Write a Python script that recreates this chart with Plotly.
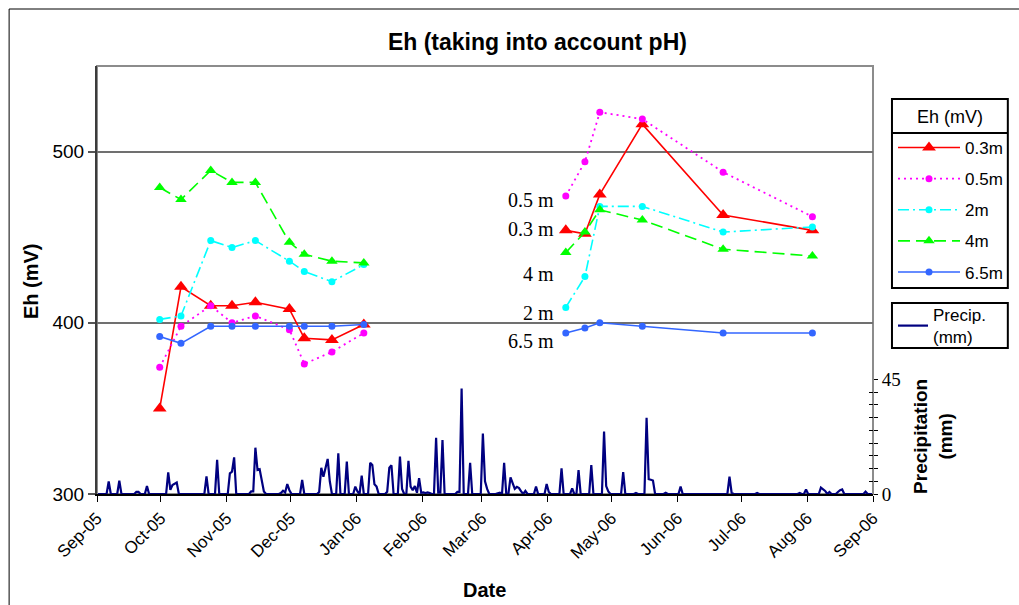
import pandas as pd
import plotly.graph_objects as go

# ---------------------------------------------------------------- data
# Eh sampling dates, two campaigns
eh_dates_1 = ["2005-09-30", "2005-10-10", "2005-10-24", "2005-11-03", "2005-11-14",
              "2005-11-30", "2005-12-07", "2005-12-20", "2006-01-04"]
eh_dates_2 = ["2006-04-09", "2006-04-18", "2006-04-25", "2006-05-15", "2006-06-22",
              "2006-08-03"]

# Eh (mV) by depth
eh_03m_1 = [350, 421, 410, 410, 412, 408, 391, 390, 399]
eh_03m_2 = [454, 452, 475, 516, 463, 454]
eh_05m_1 = [374, 398, 410, 400, 404, 396, 376, 383, 394]
eh_05m_2 = [474, 494, 523, 519, 488, 462]
eh_2m_1 = [402, 404, 448, 444, 448, 436, 430, 424, 434]
eh_2m_2 = [409, 427, 468, 468, 453, 456]
eh_4m_1 = [479, 472, 489, 482, 482, 447, 440, 436, 435]
eh_4m_2 = [441, 453, 466, 460, 443, 439]
eh_65m_1 = [392, 388, 398, 398, 398, 398, 398, 398, 399]
eh_65m_2 = [394, 397, 400, 398, 394, 394]

series_names = ["0.3m", "0.5m", "2m", "4m", "6.5m"]
series_labels = ["0.5 m", "0.3 m", "4 m", "2 m", "6.5 m"]

# daily precipitation (mm); days not listed had no rain
precip_dates = [
    "2005-09-06", "2005-09-11", "2005-09-19", "2005-09-20", "2005-09-24",
    "2005-10-04", "2005-10-05", "2005-10-06", "2005-10-07", "2005-10-08",
    "2005-10-22", "2005-10-27", "2005-11-02", "2005-11-03", "2005-11-04",
    "2005-11-12", "2005-11-13", "2005-11-14", "2005-11-15", "2005-11-16",
    "2005-11-17", "2005-11-18", "2005-11-26", "2005-11-27", "2005-11-28",
    "2005-11-29", "2005-11-30", "2005-12-06", "2005-12-14", "2005-12-15",
    "2005-12-16", "2005-12-17", "2005-12-18", "2005-12-19", "2005-12-23",
    "2005-12-27", "2005-12-31", "2006-01-01", "2006-01-03", "2006-01-07",
    "2006-01-08", "2006-01-09", "2006-01-10", "2006-01-15", "2006-01-16",
    "2006-01-17", "2006-01-21", "2006-01-22", "2006-01-25", "2006-01-26",
    "2006-01-27", "2006-01-28", "2006-01-29", "2006-01-30", "2006-01-31",
    "2006-02-01", "2006-02-02", "2006-02-03", "2006-02-04", "2006-02-07",
    "2006-02-08", "2006-02-09", "2006-02-10", "2006-02-17", "2006-02-18",
    "2006-02-19", "2006-02-23", "2006-03-01", "2006-03-02", "2006-03-03",
    "2006-03-08", "2006-03-09", "2006-03-11", "2006-03-14", "2006-03-15",
    "2006-03-16", "2006-03-17", "2006-03-18", "2006-03-19", "2006-03-21",
    "2006-03-26", "2006-03-31", "2006-04-01", "2006-04-07", "2006-04-12",
    "2006-04-15", "2006-04-21", "2006-04-27", "2006-04-28", "2006-04-29",
    "2006-05-06", "2006-05-12", "2006-05-17", "2006-05-18", "2006-05-19",
    "2006-05-20", "2006-05-26", "2006-06-02", "2006-06-25", "2006-06-26",
    "2006-07-08", "2006-07-28", "2006-07-31", "2006-08-07", "2006-08-08",
    "2006-08-09", "2006-08-11", "2006-08-15", "2006-08-16", "2006-08-17",
    "2006-08-28",
]
precip_mm = [
    4.9, 5.2, 0.8, 0.8, 3.1,
    8.5, 1.6, 3.5, 4.0, 4.5,
    6.9, 13.4, 8.1, 8.8, 14.4,
    1.0, 1.0, 18.2, 9.4, 9.7,
    5.0, 1.0, 0.4, 1.3, 0.6,
    3.9, 1.5, 5.5, 0.8, 10.3,
    6.8, 10.3, 13.8, 5.0, 16.0,
    12.7, 2.9, 1.0, 7.2, 12.3,
    11.4, 3.8, 2.9, 0.9, 10.3,
    11.3, 14.7, 2.0, 13.0, 2.9,
    1.5, 3.1, 0.5, 6.2, 0.5,
    0.6, 0.4, 0.6, 0.4, 22.1,
    0.5, 0.5, 21.2, 0.8, 0.8,
    41.5, 12.3, 23.8, 5.0, 2.0,
    0.3, 0.5, 12.3, 6.5, 4.5,
    2.0, 2.8, 2.3, 1.0, 1.2,
    2.9, 3.9, 0.8, 10.1, 2.2,
    9.4, 11.4, 24.5, 3.1, 1.0,
    8.6, 0.4, 30.0, 5.8, 5.6,
    5.3, 0.5, 2.9, 6.8, 0.5,
    0.4, 0.4, 1.8, 2.5, 2.0,
    1.2, 0.8, 0.8, 1.5, 1.8,
    0.9,
]

# ---------------------------------------------------------------- layout helpers
W, H = 1019, 605
PL, PR, PT, PB = 97, 874, 66, 494          # plot area in pixels


def px2x(px):
    return (px - PL) / (PR - PL)


def px2y(py):
    return (PB - py) / (PB - PT)


HALF_DAY = pd.Timedelta(hours=12)          # daily values sit mid-day
GAP = pd.Timestamp("2006-02-20")            # break between the two campaigns


def eh_xy(d1, v1, d2, v2):
    x = list(pd.to_datetime(d1) + HALF_DAY) + [GAP] + list(pd.to_datetime(d2) + HALF_DAY)
    y = list(v1) + [None] + list(v2)
    return x, y


days = pd.date_range("2005-09-01", "2006-08-31", freq="D")
rain = pd.Series(0.0, index=days)
rain[pd.to_datetime(precip_dates)] = precip_mm

SANS = "Liberation Sans, Arial, sans-serif"
SERIF = "Liberation Serif, Times New Roman, serif"

fig = go.Figure()

styles = [
    dict(color="#FF0000", dash="solid", symbol="triangle-up", msize=12, width=1.6),
    dict(color="#FF00FF", dash="2px,4px", symbol="circle", msize=7, width=1.8),
    dict(color="#00FFFF", dash="11px,4px,2px,4px", symbol="circle", msize=7, width=1.6),
    dict(color="#00FF00", dash="12px,6px", symbol="triangle-up", msize=10, width=1.6),
    dict(color="#3366FF", dash="solid", symbol="circle", msize=7, width=1.6),
]
data_pairs = [
    (eh_03m_1, eh_03m_2), (eh_05m_1, eh_05m_2), (eh_2m_1, eh_2m_2),
    (eh_4m_1, eh_4m_2), (eh_65m_1, eh_65m_2),
]

for name, st, (v1, v2) in zip(series_names, styles, data_pairs):
    x, y = eh_xy(eh_dates_1, v1, eh_dates_2, v2)
    fig.add_trace(go.Scatter(
        x=x, y=y, name=name, mode="lines+markers", connectgaps=False,
        line=dict(color=st["color"], dash=st["dash"], width=st["width"]),
        marker=dict(symbol=st["symbol"], size=st["msize"], color=st["color"]),
        legend="legend", legendgroup=name,
        xaxis="x", yaxis="y",
    ))

fig.add_trace(go.Scatter(
    x=rain.index + HALF_DAY, y=rain.values, name="Precip.<br>(mm)",
    mode="lines", line=dict(color="#000080", width=2.2),
    legend="legend2", xaxis="x", yaxis="y2",
))

fig.update_layout(
    width=W, height=H, autosize=False,
    margin=dict(l=PL, r=W - PR, t=PT, b=H - PB, pad=0),
    paper_bgcolor="white", plot_bgcolor="rgba(0,0,0,0)",
    font=dict(family=SANS, color="black", size=17),
    title=dict(text="<b>Eh (taking into account pH)</b>", font=dict(size=23, family=SANS),
               xref="paper", x=px2x(538), xanchor="center",
               yref="container", y=1 - 42 / H, yanchor="middle"),
    xaxis=dict(
        type="date", range=["2005-09-01", "2006-09-01"],
        tick0="2005-09-01", dtick="M1", tickformat="%b-%y", tickangle=-45,
        ticks="outside", ticklen=6, tickcolor="black", tickwidth=1,
        showline=True, linecolor="black", linewidth=1.5,
        showgrid=False, zeroline=False, tickfont=dict(size=17),
    ),
    yaxis=dict(
        range=[300, 550], tickvals=[300, 400, 500],
        ticks="outside", ticklen=7, tickcolor="#555555", tickwidth=1.5,
        showline=True, linecolor="#3c3c3c", linewidth=2,
        showgrid=True, gridcolor="#707070", gridwidth=2,
        zeroline=False, tickfont=dict(size=19),
    ),
    yaxis2=dict(
        domain=[0, px2y(379.5)], range=[0, 45], anchor="x", side="right",
        tickvals=[0, 45], ticks="outside", ticklen=4, tickcolor="black",
        minor=dict(dtick=5, ticks="outside", ticklen=4, tickcolor="black"),
        showgrid=False, zeroline=False, showline=False,
        tickfont=dict(size=19, family=SERIF),
    ),
    yaxis3=dict(
        overlaying="y2", range=[0, 45], anchor="x", side="right",
        tickvals=[0, 45], ticks="inside", ticklen=4, tickcolor="black",
        minor=dict(dtick=5, ticks="inside", ticklen=4, tickcolor="black"),
        showticklabels=False, showgrid=False, zeroline=False, showline=False,
    ),
    legend=dict(
        x=px2x(893), y=px2y(130), xanchor="left", yanchor="top",
        bgcolor="rgba(0,0,0,0)", borderwidth=0, itemwidth=62,
        tracegroupgap=6, font=dict(size=17),
    ),
    legend2=dict(
        x=px2x(893), y=px2y(297), xanchor="left", yanchor="top",
        bgcolor="rgba(0,0,0,0)", borderwidth=0, itemwidth=30,
        font=dict(size=17),
    ),
)

# a trace must reference yaxis3 for its ticks to render
fig.add_trace(go.Scatter(x=[None], y=[None], xaxis="x", yaxis="y3",
                         showlegend=False, hoverinfo="skip"))

shapes = [
    # plot-area border
    dict(type="rect", xref="paper", yref="paper", x0=0, x1=1, y0=0, y1=1,
         line=dict(color="#8c8c8c", width=2), layer="below"),
    # chart frame
    dict(type="rect", xref="paper", yref="paper",
         x0=px2x(9), x1=px2x(1040), y0=px2y(640), y1=px2y(9),
         line=dict(color="black", width=1)),
    # legend boxes
    dict(type="rect", xref="paper", yref="paper",
         x0=px2x(893), x1=px2x(1009), y0=px2y(288), y1=px2y(99),
         line=dict(color="black", width=2)),
    dict(type="line", xref="paper", yref="paper",
         x0=px2x(893), x1=px2x(1009), y0=px2y(133), y1=px2y(133),
         line=dict(color="black", width=2)),
    dict(type="rect", xref="paper", yref="paper",
         x0=px2x(893), x1=px2x(1009), y0=px2y(348), y1=px2y(303),
         line=dict(color="black", width=2)),
]
fig.update_layout(shapes=shapes)

annotations = [
    dict(text="Eh (mV)", x=px2x(951), y=px2y(117), font=dict(size=18, family=SANS)),
    dict(text="<b>Eh (mV)</b>", x=px2x(31), y=px2y(281), textangle=-90,
         font=dict(size=20, family=SANS)),
    dict(text="<b>Date</b>", x=px2x(485), y=px2y(590), font=dict(size=20, family=SANS)),
    dict(text="<b>Precipitation</b><br><b>(mm)</b>", x=px2x(934), y=px2y(436),
         textangle=-90, font=dict(size=19, family=SANS)),
]
label_y = [200, 229, 274, 313, 341]
for text, ly in zip(series_labels, label_y):
    annotations.append(dict(text=text, x=px2x(557), y=px2y(ly), xanchor="right",
                            font=dict(size=20, family=SERIF)))
for a in annotations:
    a.setdefault("xref", "paper")
    a.setdefault("yref", "paper")
    a.setdefault("xanchor", "center")
    a.setdefault("yanchor", "middle")
    a.setdefault("showarrow", False)
fig.update_layout(annotations=annotations)

fig.write_html("out.html")
